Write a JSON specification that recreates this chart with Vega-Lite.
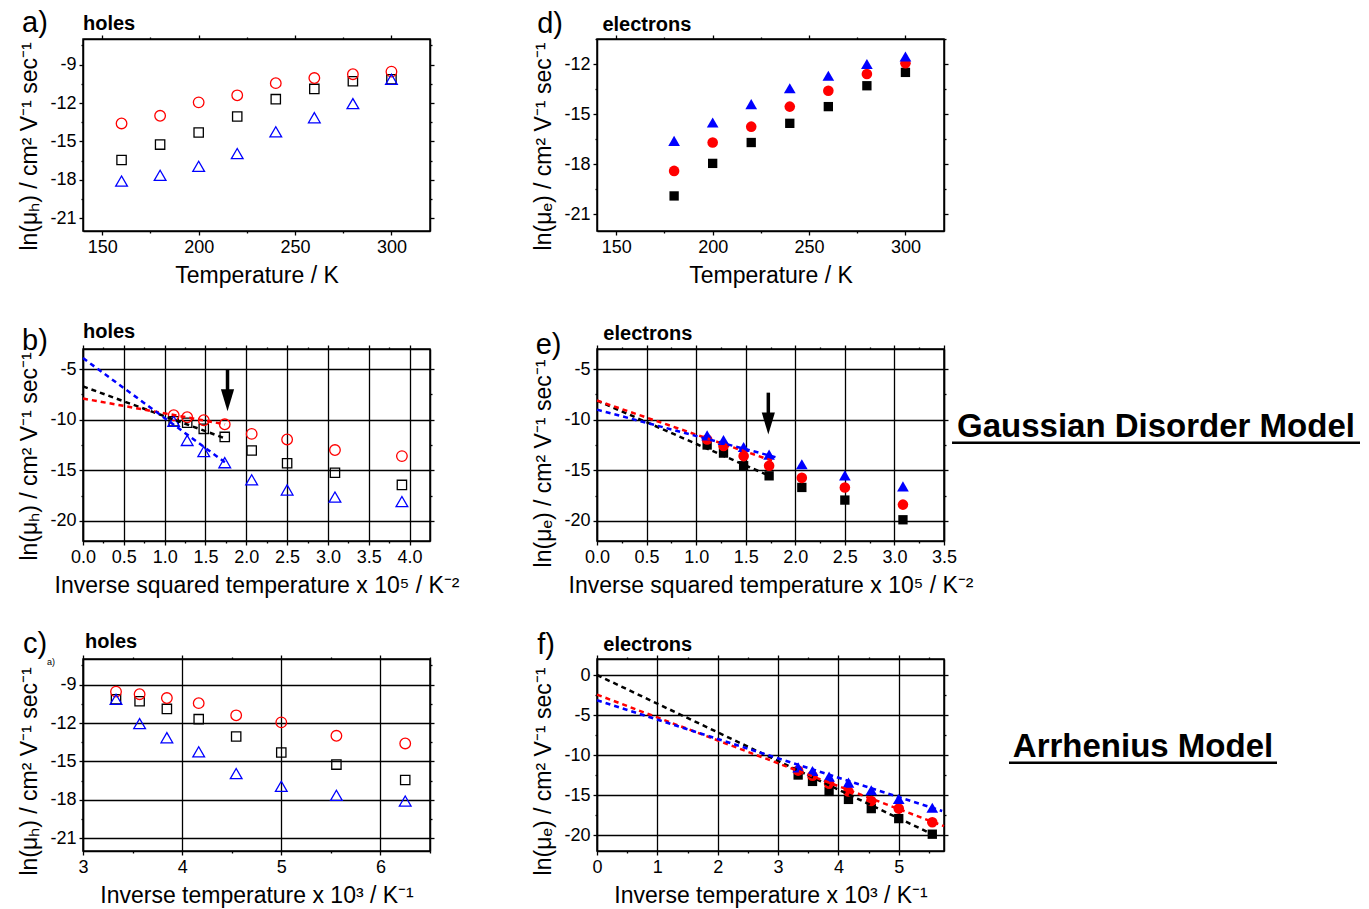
{
 "$schema": "https://vega.github.io/schema/vega-lite/v6.json",
 "background": "white",
 "padding": {"left": 18, "top": 8, "right": 5, "bottom": 5},
 "config": {
  "font": "Liberation Sans",
  "view": {"stroke": "black", "strokeWidth": 1.5},
  "axis": {"domainColor": "black", "domainWidth": 1.5, "tickColor": "black", "tickWidth": 1.3, "labelFontSize": 18, "labelColor": "black", "labelFont": "Liberation Sans", "titleFont": "Liberation Sans", "titleFontSize": 23, "titleFontWeight": "normal", "titleColor": "black", "gridColor": "black", "gridWidth": 1.3, "labelPadding": 3, "titlePadding": 8, "labelOverlap": false, "labelFlush": false},
  "text": {"color": "black", "font": "Liberation Sans"}
 },
 "datasets": {
  "holes": [
   {"T": 160, "invT": 6.25, "invT2": 3.906, "series": "black", "lnmu": -16.45},
   {"T": 180, "invT": 5.556, "invT2": 3.086, "series": "black", "lnmu": -15.25},
   {"T": 200, "invT": 5.0, "invT2": 2.5, "series": "black", "lnmu": -14.3},
   {"T": 220, "invT": 4.545, "invT2": 2.066, "series": "black", "lnmu": -13.05},
   {"T": 240, "invT": 4.167, "invT2": 1.736, "series": "black", "lnmu": -11.7},
   {"T": 260, "invT": 3.846, "invT2": 1.479, "series": "black", "lnmu": -10.9},
   {"T": 280, "invT": 3.571, "invT2": 1.276, "series": "black", "lnmu": -10.3},
   {"T": 300, "invT": 3.333, "invT2": 1.111, "series": "black", "lnmu": -10.15},
   {"T": 160, "invT": 6.25, "invT2": 3.906, "series": "red", "lnmu": -13.6},
   {"T": 180, "invT": 5.556, "invT2": 3.086, "series": "red", "lnmu": -13.0},
   {"T": 200, "invT": 5.0, "invT2": 2.5, "series": "red", "lnmu": -11.95},
   {"T": 220, "invT": 4.545, "invT2": 2.066, "series": "red", "lnmu": -11.4},
   {"T": 240, "invT": 4.167, "invT2": 1.736, "series": "red", "lnmu": -10.45},
   {"T": 260, "invT": 3.846, "invT2": 1.479, "series": "red", "lnmu": -10.05},
   {"T": 280, "invT": 3.571, "invT2": 1.276, "series": "red", "lnmu": -9.75},
   {"T": 300, "invT": 3.333, "invT2": 1.111, "series": "red", "lnmu": -9.55},
   {"T": 160, "invT": 6.25, "invT2": 3.906, "series": "blue", "lnmu": -18.1},
   {"T": 180, "invT": 5.556, "invT2": 3.086, "series": "blue", "lnmu": -17.65},
   {"T": 200, "invT": 5.0, "invT2": 2.5, "series": "blue", "lnmu": -16.95},
   {"T": 220, "invT": 4.545, "invT2": 2.066, "series": "blue", "lnmu": -15.95},
   {"T": 240, "invT": 4.167, "invT2": 1.736, "series": "blue", "lnmu": -14.25},
   {"T": 260, "invT": 3.846, "invT2": 1.479, "series": "blue", "lnmu": -13.15},
   {"T": 280, "invT": 3.571, "invT2": 1.276, "series": "blue", "lnmu": -12.05},
   {"T": 300, "invT": 3.333, "invT2": 1.111, "series": "blue", "lnmu": -10.15}
  ],
  "electrons": [
   {"T": 180, "invT": 5.556, "invT2": 3.086, "series": "black", "lnmu": -19.9},
   {"T": 200, "invT": 5.0, "invT2": 2.5, "series": "black", "lnmu": -17.95},
   {"T": 220, "invT": 4.545, "invT2": 2.066, "series": "black", "lnmu": -16.7},
   {"T": 240, "invT": 4.167, "invT2": 1.736, "series": "black", "lnmu": -15.55},
   {"T": 260, "invT": 3.846, "invT2": 1.479, "series": "black", "lnmu": -14.55},
   {"T": 280, "invT": 3.571, "invT2": 1.276, "series": "black", "lnmu": -13.3},
   {"T": 300, "invT": 3.333, "invT2": 1.111, "series": "black", "lnmu": -12.5},
   {"T": 180, "invT": 5.556, "invT2": 3.086, "series": "red", "lnmu": -18.4},
   {"T": 200, "invT": 5.0, "invT2": 2.5, "series": "red", "lnmu": -16.7},
   {"T": 220, "invT": 4.545, "invT2": 2.066, "series": "red", "lnmu": -15.75},
   {"T": 240, "invT": 4.167, "invT2": 1.736, "series": "red", "lnmu": -14.55},
   {"T": 260, "invT": 3.846, "invT2": 1.479, "series": "red", "lnmu": -13.6},
   {"T": 280, "invT": 3.571, "invT2": 1.276, "series": "red", "lnmu": -12.6},
   {"T": 300, "invT": 3.333, "invT2": 1.111, "series": "red", "lnmu": -11.95},
   {"T": 180, "invT": 5.556, "invT2": 3.086, "series": "blue", "lnmu": -16.6},
   {"T": 200, "invT": 5.0, "invT2": 2.5, "series": "blue", "lnmu": -15.5},
   {"T": 220, "invT": 4.545, "invT2": 2.066, "series": "blue", "lnmu": -14.4},
   {"T": 240, "invT": 4.167, "invT2": 1.736, "series": "blue", "lnmu": -13.45},
   {"T": 260, "invT": 3.846, "invT2": 1.479, "series": "blue", "lnmu": -12.7},
   {"T": 280, "invT": 3.571, "invT2": 1.276, "series": "blue", "lnmu": -12.0},
   {"T": 300, "invT": 3.333, "invT2": 1.111, "series": "blue", "lnmu": -11.55}
  ],
  "fitsB": [
   {"series": "black", "x": 0, "y": -6.7}, {"series": "black", "x": 1.76, "y": -11.9},
   {"series": "red", "x": 0, "y": -7.9}, {"series": "red", "x": 1.74, "y": -10.45},
   {"series": "blue", "x": 0, "y": -3.9}, {"series": "blue", "x": 1.77, "y": -14.4}
  ],
  "fitsE": [
   {"series": "black", "x": 0, "y": -8.1}, {"series": "black", "x": 1.75, "y": -15.6},
   {"series": "red", "x": 0, "y": -8.1}, {"series": "red", "x": 1.78, "y": -14.1},
   {"series": "blue", "x": 0, "y": -9.0}, {"series": "blue", "x": 1.8, "y": -13.7}
  ],
  "fitsF": [
   {"series": "black", "x": 0, "y": 0.0}, {"series": "black", "x": 5.61, "y": -20.1},
   {"series": "red", "x": 0, "y": -2.45}, {"series": "red", "x": 5.75, "y": -18.9},
   {"series": "blue", "x": 0, "y": -3.15}, {"series": "blue", "x": 5.72, "y": -17.0}
  ]
 },
 "columns": 2,
 "spacing": {"row": 118, "column": 167},
 "bounds": "flush",
 "concat": [
  {
   "width": 347, "height": 192,
   "resolve": {"axis": {"x": "independent", "y": "independent"}},
   "layer": [
    {
     "data": {"name": "holes"},
     "mark": {"type": "point", "filled": false, "strokeWidth": 1.3, "opacity": 1},
     "encoding": {
      "x": {"field": "T", "type": "quantitative", "scale": {"domain": [140, 320], "nice": false, "zero": false},
       "axis": {"orient": "bottom", "values": [150, 175, 200, 225, 250, 275, 300], "labelExpr": "datum.value % 50 === 0 ? '' + datum.value : ''", "tickSize": {"condition": {"test": "datum.value % 50 === 0", "value": 4}, "value": 2}, "grid": false, "title": "Temperature / K"}},
      "y": {"field": "lnmu", "type": "quantitative", "scale": {"domain": [-22, -7], "nice": false, "zero": false},
       "axis": {"orient": "left", "values": [-21, -19.5, -18, -16.5, -15, -13.5, -12, -10.5, -9, -7.5], "labelExpr": "datum.value % 3 === 0 ? '' + datum.value : ''", "tickSize": {"condition": {"test": "datum.value % 3 === 0", "value": 4}, "value": 2}, "grid": false, "title": "ln(μₕ) / cm² V⁻¹ sec⁻¹", "titleY": 107}},
      "color": {"field": "series", "type": "nominal", "scale": {"domain": ["black", "red", "blue"], "range": ["#000000", "#ff0000", "#0000ff"]}, "legend": null},
      "shape": {"field": "series", "type": "nominal", "scale": {"domain": ["black", "red", "blue"], "range": ["square", "circle", "triangle-up"]}, "legend": null},
      "size": {"field": "series", "type": "ordinal", "scale": {"domain": ["black", "red", "blue"], "range": [87, 137, 175]}, "legend": null}
     }
    },
    {
     "data": {"values": [{}]},
     "mark": {"type": "text", "text": "a)", "fontSize": 29, "align": "left", "baseline": "alphabetic"},
     "encoding": {
      "x": {"datum": 108.4, "type": "quantitative", "scale": {"domain": [140, 320], "nice": false, "zero": false},
       "axis": {"orient": "top", "values": [150, 175, 200, 225, 250, 275, 300], "labels": false, "title": null, "grid": false, "tickSize": {"condition": {"test": "datum.value % 50 === 0", "value": 4}, "value": 2}}},
      "y": {"datum": -6.49, "type": "quantitative", "scale": {"domain": [-22, -7], "nice": false, "zero": false},
       "axis": {"orient": "right", "values": [-21, -19.5, -18, -16.5, -15, -13.5, -12, -10.5, -9, -7.5], "labels": false, "title": null, "grid": false, "tickSize": {"condition": {"test": "datum.value % 3 === 0", "value": 4}, "value": 2}}}
     }
    },
    {
     "data": {"values": [{}]},
     "mark": {"type": "text", "text": "holes", "fontSize": 20, "fontWeight": "bold", "align": "left", "baseline": "alphabetic"},
     "encoding": {
      "x": {"datum": 140, "type": "quantitative", "scale": {"domain": [140, 320], "nice": false, "zero": false}, "axis": null},
      "y": {"datum": -6.3, "type": "quantitative", "scale": {"domain": [-22, -7], "nice": false, "zero": false}, "axis": null}
     }
    }
   ]
  },
  {
   "width": 347, "height": 192,
   "resolve": {"axis": {"x": "independent", "y": "independent"}},
   "layer": [
    {
     "data": {"name": "electrons"},
     "mark": {"type": "point", "filled": true, "opacity": 1},
     "encoding": {
      "x": {"field": "T", "type": "quantitative", "scale": {"domain": [140, 320], "nice": false, "zero": false},
       "axis": {"orient": "bottom", "values": [150, 175, 200, 225, 250, 275, 300], "labelExpr": "datum.value % 50 === 0 ? '' + datum.value : ''", "tickSize": {"condition": {"test": "datum.value % 50 === 0", "value": 4}, "value": 2}, "grid": false, "title": "Temperature / K"}},
      "y": {"field": "lnmu", "type": "quantitative", "scale": {"domain": [-22, -10.5], "nice": false, "zero": false},
       "axis": {"orient": "left", "values": [-21, -19.5, -18, -16.5, -15, -13.5, -12, -10.5], "labelExpr": "datum.value % 3 === 0 ? '' + datum.value : ''", "tickSize": {"condition": {"test": "datum.value % 3 === 0", "value": 4}, "value": 2}, "grid": false, "title": "ln(μₑ) / cm² V⁻¹ sec⁻¹", "titleY": 107}},
      "color": {"field": "series", "type": "nominal", "scale": {"domain": ["black", "red", "blue"], "range": ["#000000", "#ff0000", "#0000ff"]}, "legend": null},
      "shape": {"field": "series", "type": "nominal", "scale": {"domain": ["black", "red", "blue"], "range": ["square", "circle", "triangle-up"]}, "legend": null},
      "size": {"field": "series", "type": "ordinal", "scale": {"domain": ["black", "red", "blue"], "range": [114, 150, 196]}, "legend": null}
     }
    },
    {
     "data": {"values": [{}]},
     "mark": {"type": "text", "text": "d)", "fontSize": 29, "align": "left", "baseline": "alphabetic"},
     "encoding": {
      "x": {"datum": 109.0, "type": "quantitative", "scale": {"domain": [140, 320], "nice": false, "zero": false},
       "axis": {"orient": "top", "values": [150, 175, 200, 225, 250, 275, 300], "labels": false, "title": null, "grid": false, "tickSize": {"condition": {"test": "datum.value % 50 === 0", "value": 4}, "value": 2}}},
      "y": {"datum": -10.12, "type": "quantitative", "scale": {"domain": [-22, -10.5], "nice": false, "zero": false},
       "axis": {"orient": "right", "values": [-21, -19.5, -18, -16.5, -15, -13.5, -12, -10.5], "labels": false, "title": null, "grid": false, "tickSize": {"condition": {"test": "datum.value % 3 === 0", "value": 4}, "value": 2}}}
     }
    },
    {
     "data": {"values": [{}]},
     "mark": {"type": "text", "text": "electrons", "fontSize": 20, "fontWeight": "bold", "align": "left", "baseline": "alphabetic"},
     "encoding": {
      "x": {"datum": 142.8, "type": "quantitative", "scale": {"domain": [140, 320], "nice": false, "zero": false}, "axis": null},
      "y": {"datum": -10.02, "type": "quantitative", "scale": {"domain": [-22, -10.5], "nice": false, "zero": false}, "axis": null}
     }
    }
   ]
  },
  {
   "width": 347, "height": 192,
   "resolve": {"axis": {"x": "independent", "y": "independent"}},
   "layer": [
    {
     "data": {"name": "holes"},
     "mark": {"type": "point", "filled": false, "strokeWidth": 1.3, "opacity": 1},
     "encoding": {
      "x": {"field": "invT2", "type": "quantitative", "scale": {"domain": [0, 4.25], "nice": false, "zero": false},
       "axis": {"orient": "bottom", "values": [0, 0.25, 0.5, 0.75, 1, 1.25, 1.5, 1.75, 2, 2.25, 2.5, 2.75, 3, 3.25, 3.5, 3.75, 4], "format": ".1f", "labelExpr": "datum.value % 0.5 === 0 ? datum.label : ''", "tickSize": {"condition": {"test": "datum.value % 0.5 === 0", "value": 4}, "value": 2}, "grid": true, "gridOpacity": {"condition": {"test": "datum.value % 0.5 === 0", "value": 1}, "value": 0}, "title": "Inverse squared temperature x 10⁵ / K⁻²"}},
      "y": {"field": "lnmu", "type": "quantitative", "scale": {"domain": [-22, -3], "nice": false, "zero": false},
       "axis": {"orient": "left", "values": [-20, -17.5, -15, -12.5, -10, -7.5, -5], "labelExpr": "datum.value % 5 === 0 ? '' + datum.value : ''", "tickSize": {"condition": {"test": "datum.value % 5 === 0", "value": 4}, "value": 2}, "grid": true, "gridOpacity": {"condition": {"test": "datum.value % 5 === 0", "value": 1}, "value": 0}, "title": "ln(μₕ) / cm² V⁻¹ sec⁻¹", "titleY": 107}},
      "color": {"field": "series", "type": "nominal", "scale": {"domain": ["black", "red", "blue"], "range": ["#000000", "#ff0000", "#0000ff"]}, "legend": null},
      "shape": {"field": "series", "type": "nominal", "scale": {"domain": ["black", "red", "blue"], "range": ["square", "circle", "triangle-up"]}, "legend": null},
      "size": {"field": "series", "type": "ordinal", "scale": {"domain": ["black", "red", "blue"], "range": [87, 137, 175]}, "legend": null}
     }
    },
    {
     "data": {"name": "fitsB"},
     "mark": {"type": "line", "strokeDash": [5, 4], "strokeWidth": 2.5},
     "encoding": {
      "x": {"field": "x", "type": "quantitative", "scale": {"domain": [0, 4.25], "nice": false, "zero": false}, "axis": null},
      "y": {"field": "y", "type": "quantitative", "scale": {"domain": [-22, -3], "nice": false, "zero": false}, "axis": null},
      "color": {"field": "series", "type": "nominal", "scale": {"domain": ["black", "red", "blue"], "range": ["#000000", "#ff0000", "#0000ff"]}, "legend": null},
      "detail": {"field": "series"}
     }
    },
    {
     "data": {"values": [{}]},
     "mark": {"type": "rule", "strokeWidth": 3.5, "color": "black"},
     "encoding": {
      "x": {"datum": 1.77, "type": "quantitative", "scale": {"domain": [0, 4.25], "nice": false, "zero": false}, "axis": null},
      "y": {"datum": -5.0, "type": "quantitative", "scale": {"domain": [-22, -3], "nice": false, "zero": false}, "axis": null},
      "y2": {"datum": -7.8}
     }
    },
    {
     "data": {"values": [{}]},
     "mark": {"type": "point", "shape": "M-0.6,-1L0.6,-1L0,1Z", "filled": true, "color": "black", "opacity": 1, "size": 484},
     "encoding": {
      "x": {"datum": 1.77, "type": "quantitative", "scale": {"domain": [0, 4.25], "nice": false, "zero": false}, "axis": null},
      "y": {"datum": -8.08, "type": "quantitative", "scale": {"domain": [-22, -3], "nice": false, "zero": false}, "axis": null}
     }
    },
    {
     "data": {"values": [{}]},
     "mark": {"type": "text", "text": "b)", "fontSize": 29, "align": "left", "baseline": "alphabetic"},
     "encoding": {
      "x": {"datum": -0.747, "type": "quantitative", "scale": {"domain": [0, 4.25], "nice": false, "zero": false},
       "axis": {"orient": "top", "values": [0, 0.25, 0.5, 0.75, 1, 1.25, 1.5, 1.75, 2, 2.25, 2.5, 2.75, 3, 3.25, 3.5, 3.75, 4], "labels": false, "title": null, "grid": false, "tickSize": {"condition": {"test": "datum.value % 0.5 === 0", "value": 4}, "value": 2}}},
      "y": {"datum": -3.1, "type": "quantitative", "scale": {"domain": [-22, -3], "nice": false, "zero": false},
       "axis": {"orient": "right", "values": [-20, -17.5, -15, -12.5, -10, -7.5, -5], "labels": false, "title": null, "grid": false, "tickSize": {"condition": {"test": "datum.value % 5 === 0", "value": 4}, "value": 2}}}
     }
    },
    {
     "data": {"values": [{}]},
     "mark": {"type": "text", "text": "holes", "fontSize": 20, "fontWeight": "bold", "align": "left", "baseline": "alphabetic"},
     "encoding": {
      "x": {"datum": 0, "type": "quantitative", "scale": {"domain": [0, 4.25], "nice": false, "zero": false}, "axis": null},
      "y": {"datum": -1.94, "type": "quantitative", "scale": {"domain": [-22, -3], "nice": false, "zero": false}, "axis": null}
     }
    }
   ]
  },
  {
   "width": 347, "height": 192,
   "resolve": {"axis": {"x": "independent", "y": "independent"}},
   "layer": [
    {
     "data": {"name": "electrons"},
     "mark": {"type": "point", "filled": true, "opacity": 1},
     "encoding": {
      "x": {"field": "invT2", "type": "quantitative", "scale": {"domain": [0, 3.5], "nice": false, "zero": false},
       "axis": {"orient": "bottom", "values": [0, 0.25, 0.5, 0.75, 1, 1.25, 1.5, 1.75, 2, 2.25, 2.5, 2.75, 3, 3.25, 3.5], "format": ".1f", "labelExpr": "datum.value % 0.5 === 0 ? datum.label : ''", "tickSize": {"condition": {"test": "datum.value % 0.5 === 0", "value": 4}, "value": 2}, "grid": true, "gridOpacity": {"condition": {"test": "datum.value % 0.5 === 0", "value": 1}, "value": 0}, "title": "Inverse squared temperature x 10⁵ / K⁻²"}},
      "y": {"field": "lnmu", "type": "quantitative", "scale": {"domain": [-22, -3], "nice": false, "zero": false},
       "axis": {"orient": "left", "values": [-20, -17.5, -15, -12.5, -10, -7.5, -5], "labelExpr": "datum.value % 5 === 0 ? '' + datum.value : ''", "tickSize": {"condition": {"test": "datum.value % 5 === 0", "value": 4}, "value": 2}, "grid": true, "gridOpacity": {"condition": {"test": "datum.value % 5 === 0", "value": 1}, "value": 0}, "title": "ln(μₑ) / cm² V⁻¹ sec⁻¹", "titleY": 114}},
      "color": {"field": "series", "type": "nominal", "scale": {"domain": ["black", "red", "blue"], "range": ["#000000", "#ff0000", "#0000ff"]}, "legend": null},
      "shape": {"field": "series", "type": "nominal", "scale": {"domain": ["black", "red", "blue"], "range": ["square", "circle", "triangle-up"]}, "legend": null},
      "size": {"field": "series", "type": "ordinal", "scale": {"domain": ["black", "red", "blue"], "range": [114, 150, 196]}, "legend": null}
     }
    },
    {
     "data": {"name": "fitsE"},
     "mark": {"type": "line", "strokeDash": [5, 4], "strokeWidth": 2.5},
     "encoding": {
      "x": {"field": "x", "type": "quantitative", "scale": {"domain": [0, 3.5], "nice": false, "zero": false}, "axis": null},
      "y": {"field": "y", "type": "quantitative", "scale": {"domain": [-22, -3], "nice": false, "zero": false}, "axis": null},
      "color": {"field": "series", "type": "nominal", "scale": {"domain": ["black", "red", "blue"], "range": ["#000000", "#ff0000", "#0000ff"]}, "legend": null},
      "detail": {"field": "series"}
     }
    },
    {
     "data": {"values": [{}]},
     "mark": {"type": "rule", "strokeWidth": 3.5, "color": "black"},
     "encoding": {
      "x": {"datum": 1.728, "type": "quantitative", "scale": {"domain": [0, 3.5], "nice": false, "zero": false}, "axis": null},
      "y": {"datum": -7.32, "type": "quantitative", "scale": {"domain": [-22, -3], "nice": false, "zero": false}, "axis": null},
      "y2": {"datum": -10.1}
     }
    },
    {
     "data": {"values": [{}]},
     "mark": {"type": "point", "shape": "M-0.6,-1L0.6,-1L0,1Z", "filled": true, "color": "black", "opacity": 1, "size": 484},
     "encoding": {
      "x": {"datum": 1.728, "type": "quantitative", "scale": {"domain": [0, 3.5], "nice": false, "zero": false}, "axis": null},
      "y": {"datum": -10.37, "type": "quantitative", "scale": {"domain": [-22, -3], "nice": false, "zero": false}, "axis": null}
     }
    },
    {
     "data": {"values": [{}]},
     "mark": {"type": "text", "text": "e)", "fontSize": 29, "align": "left", "baseline": "alphabetic"},
     "encoding": {
      "x": {"datum": -0.618, "type": "quantitative", "scale": {"domain": [0, 3.5], "nice": false, "zero": false},
       "axis": {"orient": "top", "values": [0, 0.25, 0.5, 0.75, 1, 1.25, 1.5, 1.75, 2, 2.25, 2.5, 2.75, 3, 3.25, 3.5], "labels": false, "title": null, "grid": false, "tickSize": {"condition": {"test": "datum.value % 0.5 === 0", "value": 4}, "value": 2}}},
      "y": {"datum": -3.49, "type": "quantitative", "scale": {"domain": [-22, -3], "nice": false, "zero": false},
       "axis": {"orient": "right", "values": [-20, -17.5, -15, -12.5, -10, -7.5, -5], "labels": false, "title": null, "grid": false, "tickSize": {"condition": {"test": "datum.value % 5 === 0", "value": 4}, "value": 2}}}
     }
    },
    {
     "data": {"values": [{}]},
     "mark": {"type": "text", "text": "electrons", "fontSize": 20, "fontWeight": "bold", "align": "left", "baseline": "alphabetic"},
     "encoding": {
      "x": {"datum": 0.064, "type": "quantitative", "scale": {"domain": [0, 3.5], "nice": false, "zero": false}, "axis": null},
      "y": {"datum": -2.14, "type": "quantitative", "scale": {"domain": [-22, -3], "nice": false, "zero": false}, "axis": null}
     }
    },
    {
     "data": {"values": [{}]},
     "mark": {"type": "text", "text": "Gaussian Disorder Model", "fontSize": 33, "fontWeight": "bold", "align": "center", "baseline": "alphabetic"},
     "encoding": {
      "x": {"datum": 5.638, "type": "quantitative", "scale": {"domain": [0, 3.5], "nice": false, "zero": false}, "axis": null},
      "y": {"datum": -11.71, "type": "quantitative", "scale": {"domain": [-22, -3], "nice": false, "zero": false}, "axis": null}
     }
    },
    {
     "data": {"values": [{}]},
     "mark": {"type": "rule", "strokeWidth": 2.5, "color": "black"},
     "encoding": {
      "x": {"datum": 3.581, "type": "quantitative", "scale": {"domain": [0, 3.5], "nice": false, "zero": false}, "axis": null},
      "x2": {"datum": 7.696},
      "y": {"datum": -12.27, "type": "quantitative", "scale": {"domain": [-22, -3], "nice": false, "zero": false}, "axis": null}
     }
    }
   ]
  },
  {
   "width": 347, "height": 192,
   "resolve": {"axis": {"x": "independent", "y": "independent"}},
   "layer": [
    {
     "data": {"name": "holes"},
     "mark": {"type": "point", "filled": false, "strokeWidth": 1.3, "opacity": 1},
     "encoding": {
      "x": {"field": "invT", "type": "quantitative", "scale": {"domain": [3, 6.5], "nice": false, "zero": false},
       "axis": {"orient": "bottom", "values": [3, 3.5, 4, 4.5, 5, 5.5, 6, 6.5], "labelExpr": "datum.value % 1 === 0 ? '' + datum.value : ''", "tickSize": {"condition": {"test": "datum.value % 1 === 0", "value": 4}, "value": 2}, "grid": true, "gridOpacity": {"condition": {"test": "datum.value % 1 === 0", "value": 1}, "value": 0}, "title": "Inverse temperature x 10³ / K⁻¹"}},
      "y": {"field": "lnmu", "type": "quantitative", "scale": {"domain": [-22, -7], "nice": false, "zero": false},
       "axis": {"orient": "left", "values": [-21, -19.5, -18, -16.5, -15, -13.5, -12, -10.5, -9, -7.5], "labelExpr": "datum.value % 3 === 0 ? '' + datum.value : ''", "tickSize": {"condition": {"test": "datum.value % 3 === 0", "value": 4}, "value": 2}, "grid": true, "gridOpacity": {"condition": {"test": "datum.value % 3 === 0", "value": 1}, "value": 0}, "title": "ln(μₕ) / cm² V⁻¹ sec⁻¹", "titleY": 112}},
      "color": {"field": "series", "type": "nominal", "scale": {"domain": ["black", "red", "blue"], "range": ["#000000", "#ff0000", "#0000ff"]}, "legend": null},
      "shape": {"field": "series", "type": "nominal", "scale": {"domain": ["black", "red", "blue"], "range": ["square", "circle", "triangle-up"]}, "legend": null},
      "size": {"field": "series", "type": "ordinal", "scale": {"domain": ["black", "red", "blue"], "range": [87, 137, 175]}, "legend": null}
     }
    },
    {
     "data": {"values": [{}]},
     "mark": {"type": "text", "text": "c)", "fontSize": 29, "align": "left", "baseline": "alphabetic"},
     "encoding": {
      "x": {"datum": 2.395, "type": "quantitative", "scale": {"domain": [3, 6.5], "nice": false, "zero": false},
       "axis": {"orient": "top", "values": [3, 3.5, 4, 4.5, 5, 5.5, 6, 6.5], "labels": false, "title": null, "grid": false, "tickSize": {"condition": {"test": "datum.value % 1 === 0", "value": 4}, "value": 2}}},
      "y": {"datum": -6.57, "type": "quantitative", "scale": {"domain": [-22, -7], "nice": false, "zero": false},
       "axis": {"orient": "right", "values": [-21, -19.5, -18, -16.5, -15, -13.5, -12, -10.5, -9, -7.5], "labels": false, "title": null, "grid": false, "tickSize": {"condition": {"test": "datum.value % 3 === 0", "value": 4}, "value": 2}}}
     }
    },
    {
     "data": {"values": [{}]},
     "mark": {"type": "text", "text": "holes", "fontSize": 20, "fontWeight": "bold", "align": "left", "baseline": "alphabetic"},
     "encoding": {
      "x": {"datum": 3.02, "type": "quantitative", "scale": {"domain": [3, 6.5], "nice": false, "zero": false}, "axis": null},
      "y": {"datum": -6.16, "type": "quantitative", "scale": {"domain": [-22, -7], "nice": false, "zero": false}, "axis": null}
     }
    },
    {
     "data": {"values": [{}]},
     "mark": {"type": "text", "text": "a)", "fontSize": 9, "align": "left", "baseline": "alphabetic"},
     "encoding": {
      "x": {"datum": 2.637, "type": "quantitative", "scale": {"domain": [3, 6.5], "nice": false, "zero": false}, "axis": null},
      "y": {"datum": -7.47, "type": "quantitative", "scale": {"domain": [-22, -7], "nice": false, "zero": false}, "axis": null}
     }
    }
   ]
  },
  {
   "width": 347, "height": 192,
   "resolve": {"axis": {"x": "independent", "y": "independent"}},
   "layer": [
    {
     "data": {"name": "electrons"},
     "mark": {"type": "point", "filled": true, "opacity": 1},
     "encoding": {
      "x": {"field": "invT", "type": "quantitative", "scale": {"domain": [0, 5.75], "nice": false, "zero": false},
       "axis": {"orient": "bottom", "values": [0, 0.5, 1, 1.5, 2, 2.5, 3, 3.5, 4, 4.5, 5, 5.5], "labelExpr": "datum.value % 1 === 0 ? '' + datum.value : ''", "tickSize": {"condition": {"test": "datum.value % 1 === 0", "value": 4}, "value": 2}, "grid": true, "gridOpacity": {"condition": {"test": "datum.value % 1 === 0", "value": 1}, "value": 0}, "title": "Inverse temperature x 10³ / K⁻¹"}},
      "y": {"field": "lnmu", "type": "quantitative", "scale": {"domain": [-22, 2], "nice": false, "zero": false},
       "axis": {"orient": "left", "values": [-20, -17.5, -15, -12.5, -10, -7.5, -5, -2.5, 0], "labelExpr": "datum.value % 5 === 0 ? '' + datum.value : ''", "tickSize": {"condition": {"test": "datum.value % 5 === 0", "value": 4}, "value": 2}, "grid": true, "gridOpacity": {"condition": {"test": "datum.value % 5 === 0", "value": 1}, "value": 0}, "title": "ln(μₑ) / cm² V⁻¹ sec⁻¹", "titleY": 112}},
      "color": {"field": "series", "type": "nominal", "scale": {"domain": ["black", "red", "blue"], "range": ["#000000", "#ff0000", "#0000ff"]}, "legend": null},
      "shape": {"field": "series", "type": "nominal", "scale": {"domain": ["black", "red", "blue"], "range": ["square", "circle", "triangle-up"]}, "legend": null},
      "size": {"field": "series", "type": "ordinal", "scale": {"domain": ["black", "red", "blue"], "range": [114, 150, 196]}, "legend": null}
     }
    },
    {
     "data": {"name": "fitsF"},
     "mark": {"type": "line", "strokeDash": [5, 4], "strokeWidth": 2.5},
     "encoding": {
      "x": {"field": "x", "type": "quantitative", "scale": {"domain": [0, 5.75], "nice": false, "zero": false}, "axis": null},
      "y": {"field": "y", "type": "quantitative", "scale": {"domain": [-22, 2], "nice": false, "zero": false}, "axis": null},
      "color": {"field": "series", "type": "nominal", "scale": {"domain": ["black", "red", "blue"], "range": ["#000000", "#ff0000", "#0000ff"]}, "legend": null},
      "detail": {"field": "series"}
     }
    },
    {
     "data": {"values": [{}]},
     "mark": {"type": "text", "text": "f)", "fontSize": 29, "align": "left", "baseline": "alphabetic"},
     "encoding": {
      "x": {"datum": -0.989, "type": "quantitative", "scale": {"domain": [0, 5.75], "nice": false, "zero": false},
       "axis": {"orient": "top", "values": [0, 0.5, 1, 1.5, 2, 2.5, 3, 3.5, 4, 4.5, 5, 5.5], "labels": false, "title": null, "grid": false, "tickSize": {"condition": {"test": "datum.value % 1 === 0", "value": 4}, "value": 2}}},
      "y": {"datum": 2.63, "type": "quantitative", "scale": {"domain": [-22, 2], "nice": false, "zero": false},
       "axis": {"orient": "right", "values": [-20, -17.5, -15, -12.5, -10, -7.5, -5, -2.5, 0], "labels": false, "title": null, "grid": false, "tickSize": {"condition": {"test": "datum.value % 5 === 0", "value": 4}, "value": 2}}}
     }
    },
    {
     "data": {"values": [{}]},
     "mark": {"type": "text", "text": "electrons", "fontSize": 20, "fontWeight": "bold", "align": "left", "baseline": "alphabetic"},
     "encoding": {
      "x": {"datum": 0.104, "type": "quantitative", "scale": {"domain": [0, 5.75], "nice": false, "zero": false}, "axis": null},
      "y": {"datum": 3.0, "type": "quantitative", "scale": {"domain": [-22, 2], "nice": false, "zero": false}, "axis": null}
     }
    },
    {
     "data": {"values": [{}]},
     "mark": {"type": "text", "text": "Arrhenius Model", "fontSize": 33, "fontWeight": "bold", "align": "center", "baseline": "alphabetic"},
     "encoding": {
      "x": {"datum": 9.047, "type": "quantitative", "scale": {"domain": [0, 5.75], "nice": false, "zero": false}, "axis": null},
      "y": {"datum": -10.25, "type": "quantitative", "scale": {"domain": [-22, 2], "nice": false, "zero": false}, "axis": null}
     }
    },
    {
     "data": {"values": [{}]},
     "mark": {"type": "rule", "strokeWidth": 2.5, "color": "black"},
     "encoding": {
      "x": {"datum": 6.827, "type": "quantitative", "scale": {"domain": [0, 5.75], "nice": false, "zero": false}, "axis": null},
      "x2": {"datum": 11.268},
      "y": {"datum": -10.96, "type": "quantitative", "scale": {"domain": [-22, 2], "nice": false, "zero": false}, "axis": null}
     }
    }
   ]
  }
 ]
}
